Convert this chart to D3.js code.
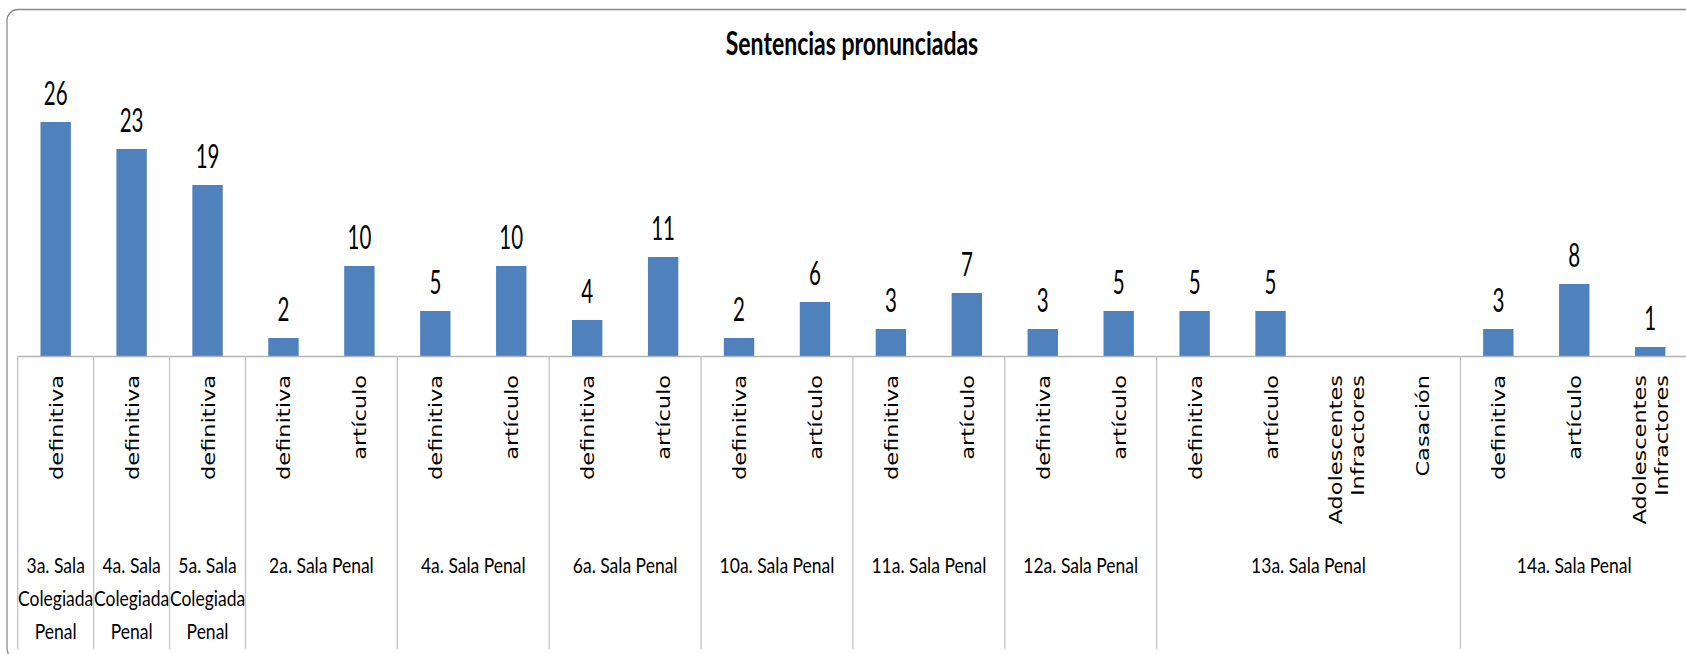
<!DOCTYPE html>
<html>
<head>
<meta charset="utf-8">
<script src="https://cdn.jsdelivr.net/npm/d3@7"></script>
<style>
  body { margin: 0; background: #fff; }
  svg { display: block; }
</style>
</head>
<body>
<svg id="chart"></svg>
<script>
// groups of the two-level category axis (lines split by \n)
const groups = ["3a. Sala\nColegiada\nPenal", "4a. Sala\nColegiada\nPenal", "5a. Sala\nColegiada\nPenal",
    "2a. Sala Penal", "4a. Sala Penal", "6a. Sala Penal", "10a. Sala Penal", "11a. Sala Penal",
    "12a. Sala Penal", "13a. Sala Penal", "14a. Sala Penal"]
const groupSizes = [1, 1, 1, 2, 2, 2, 2, 2, 2, 4, 3]

const categories = ["definitiva", "definitiva", "definitiva",
    "definitiva", "artículo", "definitiva", "artículo", "definitiva", "artículo",
    "definitiva", "artículo", "definitiva", "artículo", "definitiva", "artículo",
    "definitiva", "artículo", "Adolescentes\nInfractores", "Casación",
    "definitiva", "artículo", "Adolescentes\nInfractores"]

const values = [26, 23, 19, 2, 10, 5, 10, 4, 11, 2, 6, 3, 7, 3, 5, 5, 5, null, null, 3, 8, 1]

const title = "Sentencias pronunciadas"

const width = 1686, height = 654

const svg = d3.select("#chart")
    .attr("width", width)
    .attr("height", height)

// chart frame (right and bottom sides run off the picture)
svg.append("rect")
    .attr("x", 7).attr("y", 9.5)
    .attr("width", 1720).attr("height", 650)
    .attr("rx", 11)
    .attr("fill", "#fff")
    .attr("stroke", "#8a8a8a")
    .attr("stroke-width", 1.3)

const idx = d3.range(categories.length)
const left = 17.7, step = 75.93
const axisY = 356

const xCell = d3.scaleBand()
    .domain(idx)
    .range([left, left + step * categories.length])

const x = d3.scaleBand()
    .domain(idx)
    .range(xCell.range())
    .paddingInner(0.6)
    .paddingOuter(0.3)

const y = d3.scaleLinear()
    .domain([0, 30])
    .range([axisY, 86])

// title
svg.append("text")
    .attr("transform", `translate(852,55) scale(1,1.4)`)
    .attr("text-anchor", "middle")
    .style("font-family", "Lato, 'Open Sans', sans-serif")
    .style("font-weight", "bold")
    .style("font-size", "23px")
    .text(title)

// bars
svg.selectAll(".bar")
    .data(idx.filter(i => values[i] != null))
    .join("rect")
    .attr("class", "bar")
    .attr("x", i => x(i))
    .attr("width", x.bandwidth())
    .attr("y", i => y(values[i]))
    .attr("height", i => y(0) - y(values[i]))
    .attr("fill", "#4f81bd")

// data labels
svg.selectAll(".lbl")
    .data(idx.filter(i => values[i] != null))
    .join("text")
    .attr("class", "lbl")
    .attr("transform", i => `translate(${x(i) + x.bandwidth() / 2},${y(values[i]) - 17}) scale(1,1.6)`)
    .attr("text-anchor", "middle")
    .style("font-family", "Lato, 'Open Sans', sans-serif")
    .style("font-size", "20.5px")
    .text(i => values[i])

// category axis line
svg.append("g")
    .attr("transform", `translate(0,${axisY})`)
    .call(d3.axisBottom(xCell).tickSize(0).tickFormat(""))
    .call(g => g.select(".domain").attr("stroke", "#b3b3b3").attr("stroke-width", 1.5))

// separators at group boundaries
let edges = [0]
groupSizes.forEach(n => edges.push(edges[edges.length - 1] + n))
svg.selectAll(".sep")
    .data(edges)
    .join("line")
    .attr("class", "sep")
    .attr("x1", e => left + e * xCell.step())
    .attr("x2", e => left + e * xCell.step())
    .attr("y1", axisY)
    .attr("y2", 649)
    .attr("stroke", "#c4c4c4")
    .attr("stroke-width", 1.3)

// inner level: rotated labels
const cat = svg.selectAll(".cat")
    .data(idx)
    .join("text")
    .attr("class", "cat")
    .attr("transform", i => `translate(${xCell(i) + xCell.bandwidth() / 2},375) rotate(-90) scale(1.25,1)`)
    .attr("text-anchor", "end")
    .style("font-family", "'DejaVu Sans', Verdana, sans-serif")
    .style("font-size", "18px")

cat.each(function (i) {
    const lines = categories[i].split("\n")
    const t = d3.select(this)
    lines.forEach((ln, k) => {
        t.append("tspan")
            .attr("x", 0)
            .attr("y", 7 + (k - (lines.length - 1) / 2) * 22)
            .text(ln)
    })
})

// outer level: group labels
let start = 0
groups.forEach((g, gi) => {
    const cx = left + (start + groupSizes[gi] / 2) * xCell.step()
    g.split("\n").forEach((ln, k) => {
        svg.append("text")
            .attr("class", "grp")
            .attr("transform", `translate(${cx},${573 + k * 33}) scale(1,1.24)`)
            .attr("text-anchor", "middle")
            .style("font-family", "Lato, 'Open Sans', sans-serif")
            .style("font-size", "17.5px")
            .text(ln)
    })
    start += groupSizes[gi]
})
</script>
</body>
</html>
